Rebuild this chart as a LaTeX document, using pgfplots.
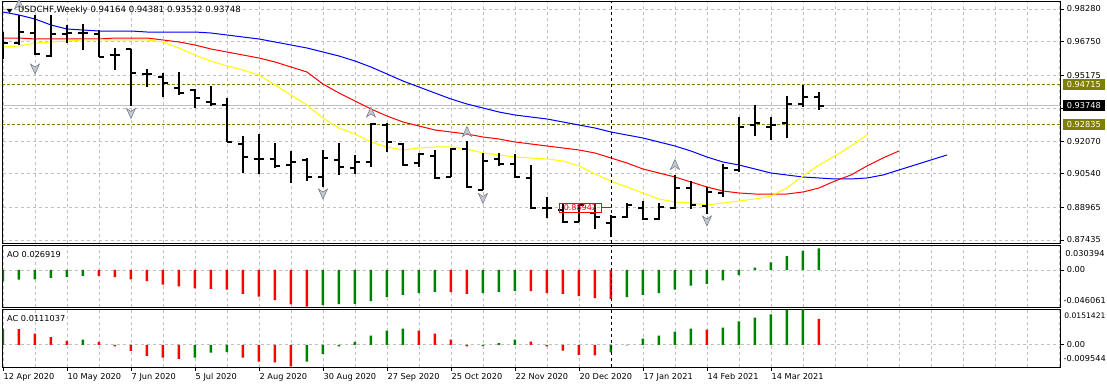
\documentclass[border=0pt]{standalone}
\usepackage{fontspec}
\setmainfont{DejaVu Sans}
\usepackage{pgfplots}
\pgfplotsset{compat=1.18}
\usepackage{pgfplotstable}
\definecolor{mtgreen}{RGB}{0,128,0}
\definecolor{mtolive}{RGB}{128,128,0}
\definecolor{gridgray}{RGB}{192,192,192}
\definecolor{mtyellow}{RGB}{255,255,0}
\definecolor{fracfill}{RGB}{195,200,210}
\definecolor{fracdraw}{RGB}{110,115,130}

\pgfdeclareplotmark{fup}{%
  \pgfpathmoveto{\pgfqpoint{0pt}{5pt}}%
  \pgfpathlineto{\pgfqpoint{4.5pt}{-5pt}}%
  \pgfpathlineto{\pgfqpoint{0pt}{-2pt}}%
  \pgfpathlineto{\pgfqpoint{-4.5pt}{-5pt}}%
  \pgfpathclose
  \pgfusepathqfillstroke}
\pgfdeclareplotmark{fdown}{%
  \pgfpathmoveto{\pgfqpoint{0pt}{-5pt}}%
  \pgfpathlineto{\pgfqpoint{4.5pt}{5pt}}%
  \pgfpathlineto{\pgfqpoint{0pt}{2pt}}%
  \pgfpathlineto{\pgfqpoint{-4.5pt}{5pt}}%
  \pgfpathclose
  \pgfusepathqfillstroke}

\pgfplotstableread{
i O H L C
0 0.96825 0.97200 0.95933 0.96684
1 0.96684 0.97998 0.96590 0.97200
2 0.97153 0.97998 0.96120 0.96167
3 0.96073 0.97998 0.96026 0.97106
4 0.97106 0.97529 0.96684 0.97153
5 0.97153 0.97576 0.96355 0.97153
6 0.97106 0.97294 0.96026 0.96026
7 0.96120 0.96449 0.95416 0.96120
8 0.96402 0.96402 0.93726 0.95275
9 0.95228 0.95463 0.94618 0.95228
10 0.95087 0.95275 0.94148 0.94806
11 0.94571 0.95322 0.94242 0.94336
12 0.94477 0.94524 0.93632 0.94102
13 0.93914 0.94665 0.93726 0.93820
14 0.93773 0.94102 0.92036 0.92036
15 0.91942 0.92317 0.90580 0.91331
16 0.91238 0.92411 0.90533 0.91238
17 0.91238 0.91989 0.90815 0.90909
18 0.90956 0.91613 0.90111 0.91097
19 0.91191 0.91284 0.90205 0.90392
20 0.90392 0.91660 0.89923 0.91284
21 0.91191 0.91989 0.90486 0.90862
22 0.90815 0.91425 0.90533 0.91097
23 0.91097 0.92928 0.90862 0.92881
24 0.92834 0.92928 0.91566 0.92036
25 0.91942 0.91989 0.90909 0.90956
26 0.91050 0.91519 0.90862 0.91472
27 0.91378 0.91660 0.90299 0.90346
28 0.90392 0.91754 0.90392 0.91707
29 0.91707 0.92083 0.89876 0.89923
30 0.89782 0.91519 0.89782 0.91144
31 0.91238 0.91519 0.90909 0.91003
32 0.91003 0.91472 0.90346 0.90392
33 0.90346 0.90956 0.88890 0.88937
34 0.88937 0.89453 0.88467 0.88937
35 0.88843 0.89172 0.88233 0.88279
36 0.88279 0.89078 0.88279 0.89078
37 0.88702 0.89172 0.87951 0.88514
38 0.88233 0.88608 0.87575 0.88514
39 0.88514 0.89172 0.88467 0.89078
40 0.88937 0.89266 0.88373 0.88420
41 0.88420 0.89172 0.88373 0.88984
42 0.88937 0.90486 0.88890 0.89876
43 0.89876 0.90205 0.88890 0.89078
44 0.89031 0.89923 0.88655 0.89688
45 0.89641 0.91003 0.89453 0.90815
46 0.90721 0.93209 0.90627 0.92740
47 0.92834 0.93773 0.92317 0.92928
48 0.92740 0.93209 0.92130 0.92834
49 0.92928 0.94195 0.92224 0.93820
50 0.93820 0.94712 0.93679 0.94148
51 0.94164 0.94381 0.93532 0.93748
}\ohlc

\pgfplotstableread{
i v
0 0.98139
1 0.97998
2 0.97811
3 0.97529
4 0.97341
5 0.97294
6 0.97247
7 0.97247
8 0.97247
9 0.97200
10 0.97200
11 0.97200
12 0.97200
13 0.97153
14 0.97059
15 0.96965
16 0.96872
17 0.96731
18 0.96590
19 0.96449
20 0.96261
21 0.96073
22 0.95839
23 0.95557
24 0.95228
25 0.94900
26 0.94618
27 0.94336
28 0.94055
29 0.93820
30 0.93632
31 0.93444
32 0.93303
33 0.93209
34 0.93116
35 0.92975
36 0.92834
37 0.92693
38 0.92505
39 0.92364
40 0.92224
41 0.92036
42 0.91848
43 0.91613
44 0.91331
45 0.91097
46 0.90956
47 0.90768
48 0.90580
49 0.90486
50 0.90392
51 0.90346
52 0.90299
53 0.90299
54 0.90346
55 0.90486
56 0.90721
57 0.90956
58 0.91191
59 0.91425
}\jaw

\pgfplotstableread{
i v
0 0.96918
1 0.96918
2 0.96872
3 0.96872
4 0.96872
5 0.96872
6 0.96872
7 0.96918
8 0.96918
9 0.96918
10 0.96825
11 0.96731
12 0.96590
13 0.96402
14 0.96261
15 0.96120
16 0.95979
17 0.95792
18 0.95557
19 0.95322
20 0.94759
21 0.94336
22 0.93961
23 0.93585
24 0.93256
25 0.92975
26 0.92787
27 0.92599
28 0.92505
29 0.92411
30 0.92270
31 0.92177
32 0.92036
33 0.91942
34 0.91848
35 0.91754
36 0.91660
37 0.91519
38 0.91284
39 0.91050
40 0.90768
41 0.90580
42 0.90392
43 0.90158
44 0.89923
45 0.89735
46 0.89641
47 0.89594
48 0.89594
49 0.89594
50 0.89688
51 0.89876
52 0.90205
53 0.90486
54 0.90909
55 0.91284
56 0.91613
}\teeth

\pgfplotstableread{
i v
0 0.96496
1 0.96543
2 0.96684
3 0.96731
4 0.96778
5 0.96825
6 0.96825
7 0.96825
8 0.96825
9 0.96825
10 0.96731
11 0.96449
12 0.96120
13 0.95839
14 0.95604
15 0.95416
16 0.95181
17 0.94712
18 0.94242
19 0.93773
20 0.93162
21 0.92693
22 0.92411
23 0.92036
24 0.91801
25 0.91660
26 0.91754
27 0.91801
28 0.91801
29 0.91707
30 0.91519
31 0.91425
32 0.91331
33 0.91284
34 0.91238
35 0.91144
36 0.90909
37 0.90533
38 0.90205
39 0.89923
40 0.89641
41 0.89360
42 0.89219
43 0.89172
44 0.89078
45 0.89172
46 0.89266
47 0.89360
48 0.89500
49 0.89876
50 0.90439
51 0.90956
52 0.91378
53 0.91848
54 0.92364
}\lips

\pgfplotsset{
  mtaxis/.style={
    scale only axis, anchor=south west,
    width=1058.2pt,
    xmin=-0.031, xmax=66.11,
    axis line style={black, line width=1pt},
    xtick={0,2,...,66}, xticklabels={}, xtick style={draw=none},
    xmajorgrids, ymajorgrids,
    major grid style={gridgray, line width=0.8pt, dash pattern=on 3pt off 3pt},
    minor grid style={gridgray, line width=0.8pt, dash pattern=on 3pt off 3pt},
    ytick pos=right, yticklabel pos=right, tick align=outside,
    major tick length=3.5pt, minor tick length=0pt,
    ytick style={black, line width=0.8pt},
    yticklabel style={inner xsep=2.5pt},
    scaled y ticks=false,
    font=\fontsize{8.2}{9.6}\selectfont,
    tick label style={font=\fontsize{8.2}{9.6}\selectfont},
  },
  ohlcstyle/.style={black, line width=2pt},
}

\begin{document}
\fontsize{8.2}{9.6}\selectfont
\begin{tikzpicture}[font=\fontsize{8.2}{9.6}\selectfont]
\useasboundingbox[fill=white] (0,0) rectangle (1107pt,388pt);

% ---------------- main price panel ----------------
\begin{axis}[mtaxis, at={(2.5pt,144.5pt)}, height=241.5pt,
  ymin=0.87270, ymax=0.98609,
  ytick={0.87435,0.88965,0.90540,0.92070,0.93632,0.95175,0.96750,0.98280},
  yticklabels={0.87435,0.88965,0.90540,0.92070,,0.95175,0.96750,0.98280}]
\addplot[gridgray, line width=1pt] coordinates {(-1,0.93748) (67,0.93748)};
\addplot[mtolive, line width=1pt, dash pattern=on 3pt off 2pt] coordinates {(-1,0.94715) (67,0.94715)};
\addplot[mtolive, line width=1pt, dash pattern=on 3pt off 2pt] coordinates {(-1,0.92835) (67,0.92835)};
\addplot[blue, line width=1pt] table[x=i,y=v] {\jaw};
\addplot[red, line width=1pt] table[x=i,y=v] {\teeth};
\addplot[mtyellow, line width=1pt] table[x=i,y=v] {\lips};
\addplot[ohlcstyle, quiver={u=0, v=\thisrow{H}-\thisrow{L}}] table[x=i,y=L] {\ohlc};
\addplot[ohlcstyle, quiver={u=-0.33, v=0}] table[x=i,y=O] {\ohlc};
\addplot[ohlcstyle, quiver={u=0.33, v=0}] table[x=i,y=C] {\ohlc};
\addplot[only marks, mark=fup, mark options={fill=fracfill, draw=fracdraw, line width=0.5pt}]
  coordinates {(1,0.98515) (23,0.93444) (29,0.92529) (42,0.90979)};
\addplot[only marks, mark=fdown, mark options={fill=fracfill, draw=fracdraw, line width=0.5pt}]
  coordinates {(2,0.95463) (8,0.93374) (20,0.89594) (30,0.89383) (38,0.87200) (44,0.88327)};
\addplot[red, line width=0.8pt] coordinates {(37.4,0.88942) (38.06,0.88942)};
\node[draw=red, text=red, line width=0.8pt, inner xsep=4pt, inner ysep=1.5pt] at (axis cs:36.09,0.88942) {\fontsize{8}{9.6}\selectfont 0.88942};
\addplot[black, line width=0.8pt, dash pattern=on 3pt off 3pt] coordinates {(38,0.8727) (38,0.98609)};
\coordinate (hlA) at (axis cs:66.11,0.94715);
\coordinate (hlB) at (axis cs:66.11,0.93748);
\coordinate (hlC) at (axis cs:66.11,0.92835);
\end{axis}

\node[fill=mtolive, text=white, anchor=west, inner xsep=4pt, inner ysep=0pt, minimum height=11pt] at ([xshift=2pt]hlA) {0.94715};
\node[fill=black, text=white, anchor=west, inner xsep=4pt, inner ysep=0pt, minimum height=11pt] at ([xshift=2pt]hlB) {0.93748};
\node[fill=mtolive, text=white, anchor=west, inner xsep=4pt, inner ysep=0pt, minimum height=11pt] at ([xshift=2pt]hlC) {0.92835};

\fill (6.5pt,379pt) -- (12.5pt,379pt) -- (9.5pt,375pt) -- cycle;
\node[anchor=west, inner sep=0pt] at (18pt,378pt) {\fontsize{8.6}{10}\selectfont USDCHF,Weekly 0.94164 0.94381 0.93532 0.93748};

% ---------------- AO panel ----------------
\begin{axis}[mtaxis, at={(2.5pt,81pt)}, height=61.5pt,
  ymin=-0.046061, ymax=0.030394, ytick={0}, yticklabels={0.00}]
\addplot[ybar, bar width=2.5pt, bar shift=0pt, fill=mtgreen, draw=none] coordinates {
 (0,-0.0138)(1,-0.0120)(2,-0.0117)(3,-0.0099)(4,-0.0086)(5,-0.0073)
 (20,-0.0436)(21,-0.0425)(22,-0.0422)(23,-0.0389)(24,-0.0337)(25,-0.0311)(26,-0.0289)(27,-0.0272)
 (30,-0.0289)(31,-0.0272)(32,-0.0259)
 (39,-0.0337)(40,-0.0311)(41,-0.0289)(42,-0.0246)(43,-0.0194)(44,-0.0173)(45,-0.0130)(46,-0.0065)
 (47,0.0030)(48,0.0095)(49,0.0173)(50,0.0237)(51,0.026919)};
\addplot[ybar, bar width=2.5pt, bar shift=0pt, fill=red, draw=none] coordinates {
 (6,-0.0076)(7,-0.0088)(8,-0.0117)(9,-0.0138)(10,-0.0181)(11,-0.0203)(12,-0.0230)(13,-0.0234)
 (14,-0.0246)(15,-0.0298)(16,-0.0333)(17,-0.0376)(18,-0.0428)(19,-0.0455)
 (28,-0.0275)(29,-0.0298)
 (33,-0.0262)(34,-0.0289)(35,-0.0298)(36,-0.0324)(37,-0.0350)(38,-0.0359)};
\addplot[black, line width=0.8pt, dash pattern=on 3pt off 3pt] coordinates {(38,-0.046061) (38,0.030394)};
\coordinate (aotop) at (rel axis cs:1,1);
\coordinate (aobot) at (rel axis cs:1,0);
\end{axis}
\node[anchor=west, inner sep=0pt] at ([xshift=4.5pt,yshift=-7.8pt]aotop) {0.030394};
\node[anchor=west, inner sep=0pt] at ([xshift=2.8pt,yshift=6pt]aobot) {-0.046061};
\node[anchor=west, inner sep=0pt] at (7pt,133pt) {AO 0.026919};

% ---------------- AC panel ----------------
\begin{axis}[mtaxis, at={(2.5pt,21pt)}, height=57.5pt,
  ymin=-0.009544, ymax=0.0151421, ytick={0}, yticklabels={0.00},
  xtick={0,4,...,48},
  xticklabels={12 Apr 2020,10 May 2020,7 Jun 2020,5 Jul 2020,2 Aug 2020,30 Aug 2020,27 Sep 2020,25 Oct 2020,22 Nov 2020,20 Dec 2020,17 Jan 2021,14 Feb 2021,14 Mar 2021},
  xtick style={draw=black, line width=0.8pt}, xtick pos=bottom,
  minor xtick={2,6,10,14,18,22,26,30,34,38,42,46,50,52,54,56,58,60,62,64,66},
  xminorgrids,
  xticklabel style={anchor=north west, inner xsep=0pt, xshift=0.5pt}]
\addplot[ybar, bar width=2.5pt, bar shift=0pt, fill=mtgreen, draw=none] coordinates {
 (0,0.0068)(5,0.0022)(12,-0.0055)(13,-0.0034)(14,-0.0032)
 (19,-0.0072)(20,-0.0039)(21,-0.0007)(22,0.0012)(23,0.0039)(24,0.0061)(25,0.0069)
 (30,-0.0006)(31,0.0007)(32,0.0022)
 (38,-0.0033)(39,-0.0003)(40,0.0026)(41,0.0039)(42,0.0056)(43,0.0069)
 (45,0.0074)(46,0.0100)(47,0.0117)(48,0.0130)(49,0.0149)(50,0.0151421)};
\addplot[ybar, bar width=2.5pt, bar shift=0pt, fill=red, draw=none] coordinates {
 (1,0.0067)(2,0.0048)(3,0.0033)(4,0.0017)(6,0.0012)(7,-0.0007)(8,-0.0026)(9,-0.0048)(10,-0.0055)(11,-0.0061)
 (15,-0.0055)(16,-0.0072)(17,-0.0076)(18,-0.0093)
 (26,0.0061)(27,0.0048)(28,0.0022)(29,-0.0007)
 (33,0.0013)(34,-0.0007)(35,-0.0025)(36,-0.0043)(37,-0.0046)
 (44,0.0065)(51,0.0111037)};
\addplot[black, line width=0.8pt, dash pattern=on 3pt off 3pt] coordinates {(38,-0.009544) (38,0.0151421)};
\coordinate (actop) at (rel axis cs:1,1);
\coordinate (acbot) at (rel axis cs:1,0);
\end{axis}
\node[anchor=west, inner sep=0pt] at ([xshift=3.5pt,yshift=-6.5pt]actop) {\fontsize{7.6}{9}\selectfont 0.0151421};
\node[anchor=west, inner sep=0pt] at ([xshift=2.8pt,yshift=8pt]acbot) {-0.009544};
\node[anchor=west, inner sep=0pt] at (7pt,69pt) {AC 0.0111037};
\end{tikzpicture}
\end{document}
